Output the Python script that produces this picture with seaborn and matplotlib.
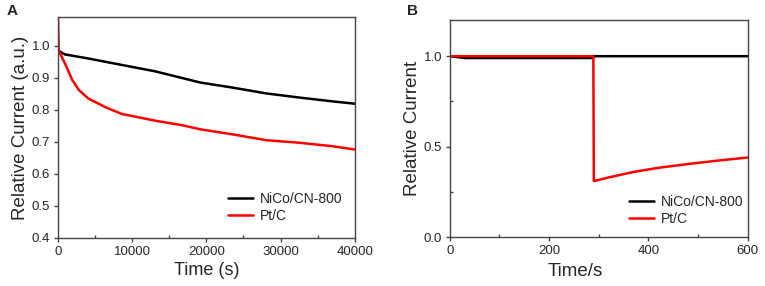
import numpy as np
import pandas as pd
import matplotlib
matplotlib.use('Agg')
import matplotlib.pyplot as plt
import seaborn as sns
from matplotlib.ticker import MultipleLocator

sns.set_style('ticks')
plt.rcParams['font.family'] = ['Liberation Sans', 'DejaVu Sans']

# ---- 面板A：长时间稳定性 ----
time_a_nico = [0, 100, 900, 4100, 8600, 13100, 19200, 23600, 28100, 32600, 37100, 40000]
nico_a = [0.99, 0.984, 0.973, 0.960, 0.940, 0.920, 0.885, 0.869, 0.851, 0.838, 0.826, 0.819]
time_a_pt = [0, 100, 1000, 1900, 2800, 4100, 6400, 8600, 13100, 16700, 19200, 23600,
             28100, 32600, 37100, 40000]
ptc_a = [1.09, 0.984, 0.942, 0.894, 0.862, 0.835, 0.808, 0.787, 0.766, 0.752, 0.739,
         0.723, 0.705, 0.697, 0.686, 0.676]

# ---- 面板B：甲醇耐受性 ----
time_b = [0, 30, 100, 200, 289, 290, 291, 320, 370, 420, 480, 540, 600]
nico_b = [1.0, 0.99, 0.99, 0.99, 0.99, 1.0, 1.0, 1.0, 1.0, 1.0, 1.0, 1.0, 1.0]
ptc_b = [1.0, 1.0, 1.0, 1.0, 1.0, 0.31, 0.31, 0.33, 0.36, 0.383, 0.404, 0.423, 0.44]

labels = ['NiCo/CN-800', 'Pt/C']
colors = ['black', '#ff0000']

df_a = pd.concat([pd.DataFrame({'t': time_a_nico, 'i': nico_a, 's': labels[0]}),
                  pd.DataFrame({'t': time_a_pt, 'i': ptc_a, 's': labels[1]})])
df_b = pd.concat([pd.DataFrame({'t': time_b, 'i': nico_b, 's': labels[0]}),
                  pd.DataFrame({'t': time_b, 'i': ptc_b, 's': labels[1]})])

fig = plt.figure(figsize=(7.65, 2.86), dpi=100)
ax_a = fig.add_axes([0.0758, 0.168, 0.388, 0.773])
ax_b = fig.add_axes([0.588, 0.171, 0.3895, 0.759])

for ax, df, anchor in [(ax_a, df_a, (1.0, 0.01)), (ax_b, df_b, (1.027, -0.008))]:
    sns.lineplot(data=df, x='t', y='i', hue='s', palette=colors, linewidth=1.8,
                 estimator=None, sort=False, ax=ax)
    for sp in ax.spines.values():
        sp.set_visible(True)
        sp.set_color('#444444')
        sp.set_linewidth(1.0)
    ax.tick_params(which='major', direction='out', length=3, width=1, labelsize=9.5,
                   color='#444444', pad=2.5)
    ax.tick_params(which='minor', direction='in', length=2, width=1, color='#444444')
    ax.legend(loc='lower right', frameon=False, fontsize=10, handlelength=1.8,
              handletextpad=0.5, labelspacing=0.22, bbox_to_anchor=anchor)

ax_a.set_xlim(0, 40000)
ax_a.set_ylim(0.4, 1.09)
ax_a.xaxis.set_major_locator(MultipleLocator(10000))
ax_a.xaxis.set_minor_locator(MultipleLocator(5000))
ax_a.set_yticks([0.4, 0.5, 0.6, 0.7, 0.8, 0.9, 1.0])
ax_a.set_xlabel('Time (s)', fontsize=13, labelpad=3)
ax_a.set_ylabel('Relative Current (a.u.)', fontsize=13.5, labelpad=2)

ax_b.set_xlim(0, 600)
ax_b.set_ylim(0, 1.2)
ax_b.xaxis.set_major_locator(MultipleLocator(200))
ax_b.xaxis.set_minor_locator(MultipleLocator(100))
ax_b.set_yticks([0.0, 0.5, 1.0])
ax_b.yaxis.set_minor_locator(MultipleLocator(0.25))
ax_b.set_xlabel('Time/s', fontsize=13.5, labelpad=3)
ax_b.xaxis.set_label_coords(0.42, -0.12)
ax_b.set_ylabel('Relative Current', fontsize=13.5, labelpad=2)

fig.text(0.009, 0.985, 'A', fontsize=11, fontweight='bold', va='top')
fig.text(0.532, 0.985, 'B', fontsize=11, fontweight='bold', va='top')

fig.savefig('out.png', dpi=100)
